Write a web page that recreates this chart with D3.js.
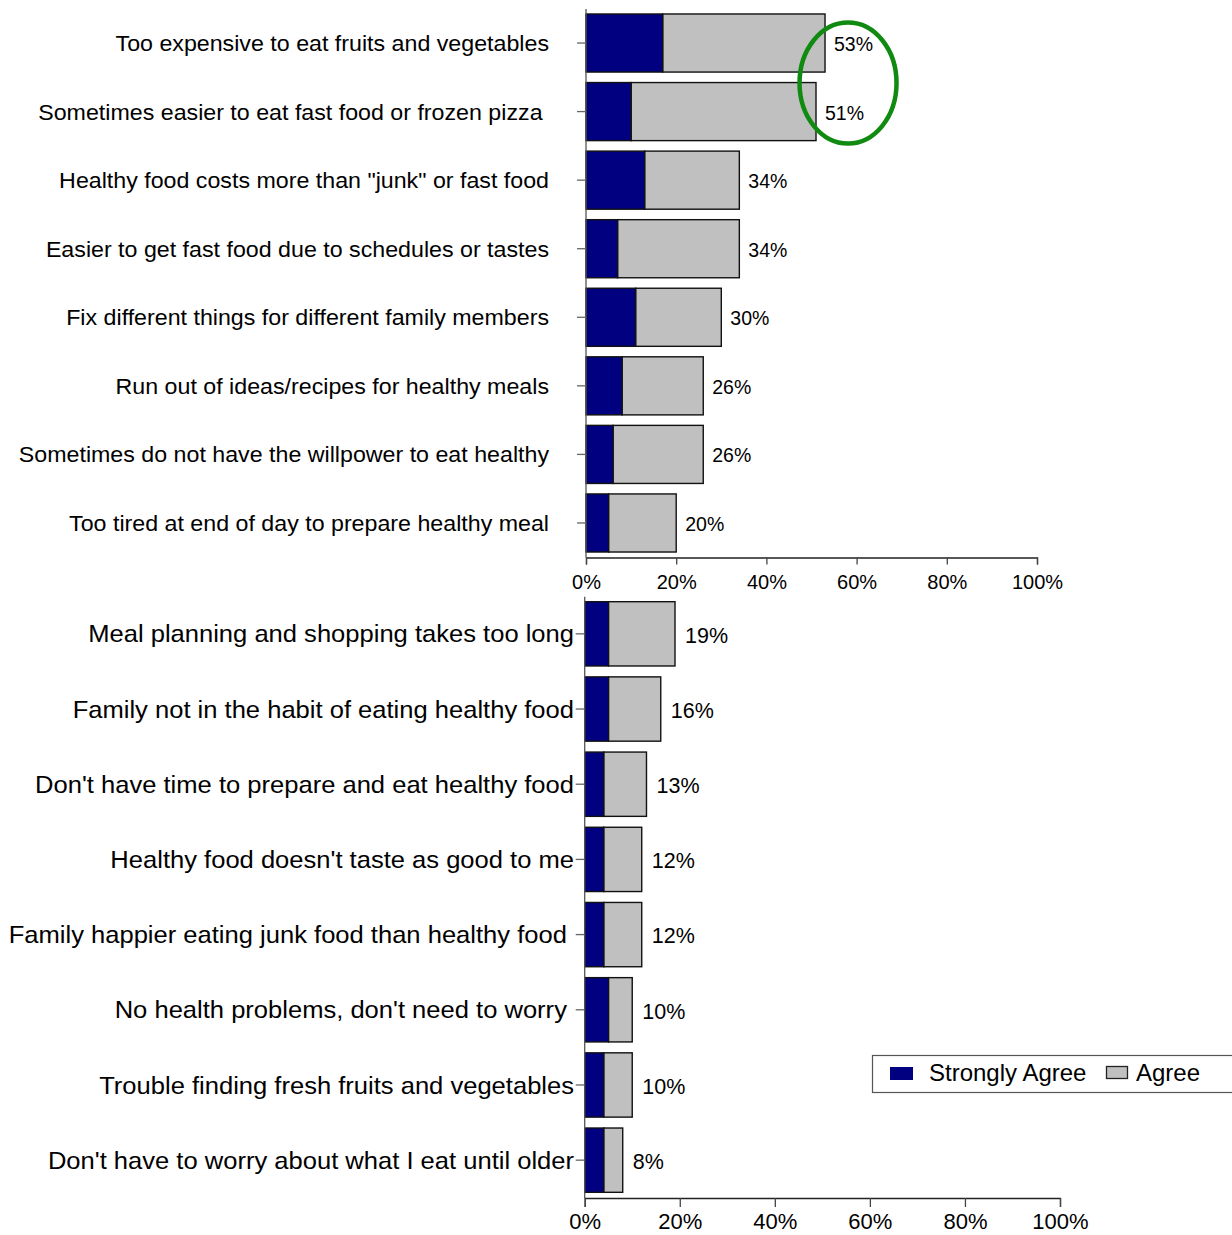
<!DOCTYPE html>
<html>
<head>
<meta charset="utf-8">
<script src="https://cdn.jsdelivr.net/npm/d3@7"></script>
<style>
  html, body { margin: 0; padding: 0; background: #fff; }
  svg { display: block; font-family: "Liberation Sans", Arial, sans-serif; }
  text.cat { white-space: pre; }
</style>
</head>
<body>
<svg id="chart" width="1232" height="1235"></svg>
<script>
// Barriers to healthy eating: share who "Strongly Agree" and total agreeing (Strongly Agree + Agree), in percent
const topCategories = [
  "Too expensive to eat fruits and vegetables",
  "Sometimes easier to eat fast food or frozen pizza ",
  "Healthy food costs more than \"junk\" or fast food",
  "Easier to get fast food due to schedules or tastes",
  "Fix different things for different family members",
  "Run out of ideas/recipes for healthy meals",
  "Sometimes do not have the willpower to eat healthy",
  "Too tired at end of day to prepare healthy meal"
];
const topStrongly = [17, 10, 13, 7, 11, 8, 6, 5];
const topTotal = [53, 51, 34, 34, 30, 26, 26, 20];

const bottomCategories = [
  "Meal planning and shopping takes too long",
  "Family not in the habit of eating healthy food",
  "Don't have time to prepare and eat healthy food",
  "Healthy food doesn't taste as good to me",
  "Family happier eating junk food than healthy food ",
  "No health problems, don't need to worry ",
  "Trouble finding fresh fruits and vegetables",
  "Don't have to worry about what I eat until older"
];
const bottomStrongly = [5, 5, 4, 4, 4, 5, 4, 4];
const bottomTotal = [19, 16, 13, 12, 12, 10, 10, 8];

const xTicks = [0, 20, 40, 60, 80, 100];
const seriesNames = ["Strongly Agree", "Agree"];
const seriesColors = ["#000080", "#c0c0c0"];

const svg = d3.select("#chart");

function drawPanel(cfg) {
  const g = svg.append("g");
  const x = d3.scaleLinear().domain([0, 100]).range([cfg.x0, cfg.x1]);
  const y = d3.scaleBand()
    .domain(cfg.categories)
    .range([cfg.yTop, cfg.yBottom])
    .paddingInner(cfg.padInner)
    .paddingOuter(cfg.padOuter);

  const rows = cfg.categories.map((c, i) => ({
    cat: c, strong: cfg.strongly[i], total: cfg.total[i]
  }));

  // Agree segment (total bar) drawn first, Strongly Agree on top
  g.selectAll("rect.agree").data(rows).join("rect")
    .attr("class", "agree")
    .attr("x", d => x(d.strong))
    .attr("y", d => y(d.cat))
    .attr("width", d => x(d.total) - x(d.strong))
    .attr("height", y.bandwidth())
    .attr("fill", seriesColors[1])
    .attr("stroke", "#111")
    .attr("stroke-width", 1.4);

  g.selectAll("rect.strong").data(rows).join("rect")
    .attr("class", "strong")
    .attr("x", x(0))
    .attr("y", d => y(d.cat))
    .attr("width", d => x(d.strong) - x(0))
    .attr("height", y.bandwidth())
    .attr("fill", seriesColors[0])
    .attr("stroke", "#111")
    .attr("stroke-width", 1.4);

  // Value labels (total agreeing)
  g.selectAll("text.val").data(rows).join("text")
    .attr("class", "val")
    .attr("x", d => x(d.total) + cfg.valOffset)
    .attr("y", d => y(d.cat) + y.bandwidth() / 2 + cfg.valFont * 0.36 + 1)
    .attr("font-size", cfg.valFont)
    .attr("fill", "#000")
    .text(d => d.total + "%");

  // Category axis
  const yAxis = g.append("g")
    .attr("transform", `translate(${cfg.x0},0)`)
    .call(d3.axisLeft(y).tickSize(cfg.yTick).tickFormat(""));
  yAxis.select(".domain")
    .attr("d", `M0,${cfg.yTop + 0.5}V${cfg.axisY}`)
    .attr("stroke", "#555").attr("stroke-width", 1.3);
  yAxis.selectAll(".tick line").attr("stroke", "#666").attr("stroke-width", 1.3);

  // Category labels
  g.selectAll("text.cat").data(rows).join("text")
    .attr("class", "cat")
    .attr("text-anchor", "end")
    .attr("transform", d =>
      `translate(${cfg.labelX},${y(d.cat) + y.bandwidth() / 2 + cfg.catFont * 0.36}) scale(${cfg.catStretch},1)`)
    .attr("font-size", cfg.catFont)
    .attr("fill", "#000")
    .text(d => d.cat);

  // Percent axis
  const xAxis = g.append("g")
    .attr("transform", `translate(0,${cfg.axisY})`)
    .call(d3.axisBottom(x).tickValues(xTicks).tickSize(cfg.xTick)
      .tickPadding(cfg.xPad).tickFormat(d => d + "%"));
  xAxis.select(".domain").attr("stroke", "#222").attr("stroke-width", 1.3);
  xAxis.selectAll(".tick line").attr("stroke", "#444").attr("stroke-width", 1.3);
  xAxis.selectAll(".tick text")
    .attr("font-size", cfg.tickFont)
    .attr("font-family", "'Liberation Sans', Arial, sans-serif")
    .attr("fill", "#000");

  return { x, y };
}

const topPanel = drawPanel({
  categories: topCategories, strongly: topStrongly, total: topTotal,
  x0: 586, x1: 1037, yTop: 8.5, yBottom: 557.5, axisY: 557.5,
  padInner: 0.153, padOuter: 0.08,
  yTick: 9, xTick: 7, xPad: 10,
  labelX: 549, catFont: 22, catStretch: 1.055,
  valFont: 19.5, valOffset: 9, tickFont: 20
});

drawPanel({
  categories: bottomCategories, strongly: bottomStrongly, total: bottomTotal,
  x0: 584.7, x1: 1060, yTop: 596.2, yBottom: 1197.8, axisY: 1198,
  padInner: 0.145, padOuter: 0.073,
  yTick: 9, xTick: 9, xPad: 6,
  labelX: 574, catFont: 24, catStretch: 1.065,
  valFont: 21.5, valOffset: 10, tickFont: 22
});

// Highlight ring around the two highest totals
const hx = topPanel.x, hy = topPanel.y;
svg.append("ellipse")
  .attr("cx", hx(58.1))
  .attr("cy", hy(topCategories[1]) + 0.5)
  .attr("rx", 48.5)
  .attr("ry", 60.5)
  .attr("fill", "none")
  .attr("stroke", "#108a10")
  .attr("stroke-width", 4.5);

// Legend
const legend = svg.append("g");
legend.append("rect")
  .attr("x", 872.5).attr("y", 1055.5)
  .attr("width", 380).attr("height", 37)
  .attr("fill", "#fff").attr("stroke", "#555").attr("stroke-width", 1.2);
const legendItems = [
  { name: seriesNames[0], color: seriesColors[0], sx: 890, sy: 1067, sw: 23, sh: 13, stroke: "none", tx: 929 },
  { name: seriesNames[1], color: seriesColors[1], sx: 1106.5, sy: 1066.5, sw: 21, sh: 12, stroke: "#222", tx: 1136 }
];
legend.selectAll("rect.sw").data(legendItems).join("rect")
  .attr("class", "sw")
  .attr("x", d => d.sx).attr("y", d => d.sy)
  .attr("width", d => d.sw).attr("height", d => d.sh)
  .attr("fill", d => d.color)
  .attr("stroke", d => d.stroke).attr("stroke-width", 1.3);
legend.selectAll("text").data(legendItems).join("text")
  .attr("x", d => d.tx).attr("y", 1081)
  .attr("font-size", 24)
  .attr("fill", "#000")
  .text(d => d.name);
</script>
</body>
</html>
